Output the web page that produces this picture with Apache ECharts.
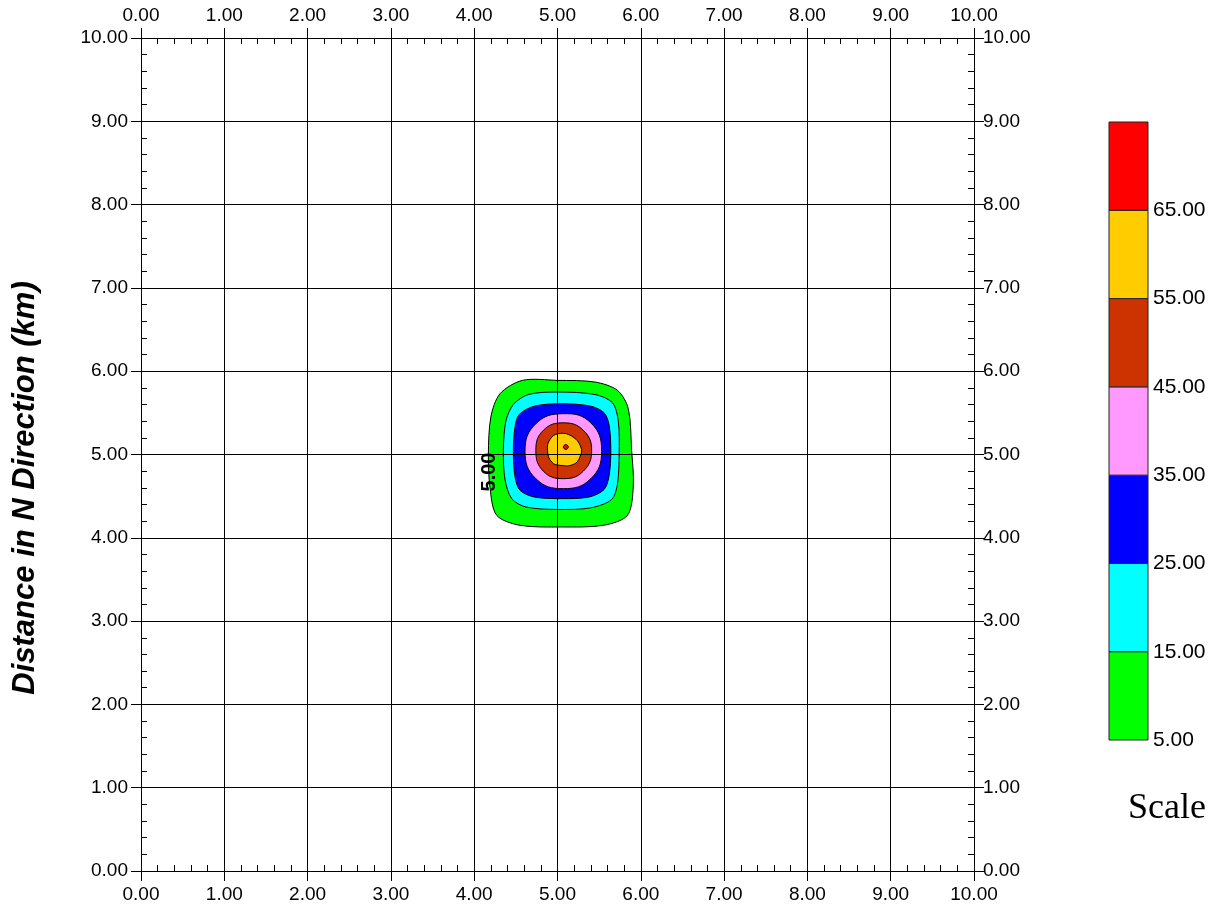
<!DOCTYPE html>
<html>
<head>
<meta charset="utf-8">
<script src="https://cdn.jsdelivr.net/npm/echarts@6/dist/echarts.min.js"></script>
<style>
html, body { margin: 0; padding: 0; background: #fff; }
#main { width: 1221px; height: 908px; }
</style>
</head>
<body>
<div id="main"></div>
<script>
// contour levels and fill colours (level i .. i+1)
const levels = [5, 15, 25, 35, 45, 55, 65, 75];
const levelColors = ['#00ff00', '#00ffff', '#0000ff', '#ff99ff', '#cc3300', '#ffcc00', '#ff0000'];

// contour rings [x km, y km], outer -> inner
const ring5 = [[5.00, 5.89], [5.45, 5.87], [5.72, 5.77], [5.85, 5.55], [5.89, 5.05], [5.91, 4.62],
  [5.84, 4.27], [5.55, 4.15], [5.05, 4.13], [4.55, 4.15], [4.27, 4.27], [4.19, 4.60],
  [4.17, 5.00], [4.20, 5.45], [4.31, 5.73], [4.58, 5.89]];
const ring15 = [[5.00, 5.75], [5.45, 5.72], [5.66, 5.62], [5.73, 5.40], [5.74, 5.00], [5.72, 4.65],
  [5.65, 4.46], [5.40, 4.36], [5.00, 4.34], [4.62, 4.37], [4.45, 4.47], [4.37, 4.70],
  [4.35, 5.05], [4.38, 5.40], [4.47, 5.60], [4.65, 5.72]];
const ring25 = [[5.05, 5.61], [5.40, 5.58], [5.56, 5.50], [5.62, 5.35], [5.64, 5.04], [5.62, 4.75],
  [5.56, 4.58], [5.38, 4.49], [5.05, 4.47], [4.72, 4.49], [4.55, 4.57], [4.49, 4.73],
  [4.47, 5.04], [4.49, 5.33], [4.54, 5.48], [4.72, 5.58]];
const ring35 = [[5.07, 5.49], [5.40, 5.38], [5.53, 5.04], [5.40, 4.71], [5.07, 4.59], [4.74, 4.71],
  [4.61, 5.04], [4.74, 5.37]];
const ring45 = [[5.07, 5.38], [5.31, 5.29], [5.41, 5.05], [5.31, 4.80], [5.07, 4.71], [4.83, 4.80],
  [4.74, 5.05], [4.83, 5.29]];
const ring55 = [[5.01, 5.25], [5.17, 5.22], [5.28, 5.09], [5.27, 4.97], [5.19, 4.88], [5.03, 4.87],
  [4.93, 4.91], [4.88, 5.05], [4.91, 5.18]];
const ring65 = [[5.10, 5.12], [5.13, 5.09], [5.10, 5.06], [5.07, 5.09]];
const contourRings = [ring5, ring15, ring25, ring35, ring45, ring55, ring65];

// contour line label
const contourLabelText = ['5.00'];
const contourLabelPos = [[4.18, 4.79]];

const fmt = v => v.toFixed(2);
const labelFont = { color: '#000', fontFamily: 'Liberation Sans', fontSize: 19 };

function mainAxis(pos, margin, split) {
  return {
    type: 'value', gridIndex: 0, position: pos, min: 0, max: 10, interval: 1,
    axisLine: { show: true, onZero: false, lineStyle: { color: '#000', width: 1 } },
    axisTick: { show: true, inside: false, length: 10, lineStyle: { color: '#000' } },
    axisLabel: Object.assign({ margin: margin, formatter: fmt }, labelFont),
    splitLine: { show: split, lineStyle: { color: '#000', width: 1 } }
  };
}
// invisible axes that only carry the inward minor ticks
function minorAxis(grid, pos) {
  return {
    type: 'value', gridIndex: grid, position: pos, min: 0, max: 10, interval: 1,
    axisLine: { show: false, onZero: false },
    axisTick: { show: false, inside: true },
    minorTick: { show: true, splitNumber: 5, length: 6, lineStyle: { color: '#000', width: 1 } },
    axisLabel: { show: false },
    splitLine: { show: false }
  };
}

const chart = echarts.init(document.getElementById('main'));

const plotBox = { left: 141, right: 247, top: 38, bottom: 37, show: false };

const option = {
  animation: false,
  backgroundColor: '#fff',
  grid: [
    Object.assign({}, plotBox),
    Object.assign({}, plotBox),
    Object.assign({}, plotBox),
    { left: 1109, top: 122, width: 39, height: 618, show: false }
  ],
  xAxis: [
    mainAxis('bottom', 14, true),
    mainAxis('top', 13, false),
    minorAxis(1, 'bottom'),
    minorAxis(2, 'top'),
    { type: 'value', gridIndex: 3, min: 0, max: 1, show: false }
  ],
  yAxis: [
    mainAxis('left', 13, true),
    mainAxis('right', 9, false),
    minorAxis(1, 'left'),
    minorAxis(2, 'right'),
    {
      type: 'value', gridIndex: 3, position: 'right', min: 5, max: 75, interval: 10,
      axisLine: { show: false, onZero: false }, axisTick: { show: false }, splitLine: { show: false },
      axisLabel: {
        margin: 5, color: '#000', fontFamily: 'Liberation Sans', fontSize: 21,
        formatter: v => (v >= 75 ? '' : fmt(v))
      }
    }
  ],
  graphic: [
    {
      type: 'text', x: 25, y: 488, rotation: Math.PI / 2,
      style: {
        text: 'Distance in N Direction (km)', fill: '#000',
        font: 'italic bold 31px "Liberation Sans"', align: 'center', verticalAlign: 'middle'
      }
    },
    {
      type: 'text', x: 1167, y: 809,
      style: { text: 'Scale', font: '36px "Liberation Serif"', fill: '#000', align: 'center', verticalAlign: 'middle' }
    }
  ],
  series: [
    {
      type: 'custom',
      xAxisIndex: 0, yAxisIndex: 0,
      z: -1,
      data: contourRings.map((r, i) => [i]),
      renderItem: function (params, api) {
        const i = api.value(0);
        const pts = contourRings[i].map(p => api.coord(p));
        return {
          type: 'polygon',
          shape: { points: pts, smooth: pts.length > 9 ? 0.3 : 0.45 },
          style: { fill: levelColors[i], stroke: '#000', lineWidth: 1 }
        };
      }
    },
    {
      type: 'custom',
      xAxisIndex: 0, yAxisIndex: 0,
      z: -1,
      data: contourLabelPos,
      renderItem: function (params, api) {
        const p = api.coord([api.value(0), api.value(1)]);
        return {
          type: 'text', x: p[0], y: p[1], rotation: Math.PI / 2, z2: 10,
          style: {
            text: contourLabelText[params.dataIndex], fill: '#000',
            font: 'bold 20px "Liberation Sans"', align: 'center', verticalAlign: 'middle'
          }
        };
      }
    },
    {
      type: 'custom',
      xAxisIndex: 4, yAxisIndex: 4,
      data: levelColors.map((c, i) => [i]),
      renderItem: function (params, api) {
        const i = api.value(0);
        const p1 = api.coord([0, levels[i + 1]]);
        const p2 = api.coord([1, levels[i]]);
        return {
          type: 'rect',
          shape: { x: p1[0], y: p1[1], width: p2[0] - p1[0], height: p2[1] - p1[1] },
          style: { fill: levelColors[i], stroke: '#222', lineWidth: 1 }
        };
      }
    }
  ]
};

chart.setOption(option);
</script>
</body>
</html>
